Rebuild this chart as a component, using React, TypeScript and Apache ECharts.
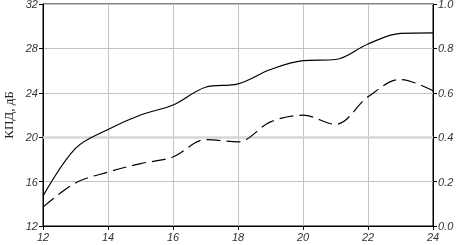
import React, { useEffect, useRef } from "react";
import * as echarts from "echarts";

const xValues = [12, 13, 14, 15, 16, 17, 18, 19, 20, 21, 22, 23, 24];
const solidValues = [14.7, 19.0, 20.7, 22.0, 22.9, 24.5, 24.8, 26.1, 26.9, 27.0, 28.4, 29.35, 29.4];
const dashedValues = [0.085, 0.194, 0.243, 0.281, 0.311, 0.389, 0.379, 0.469, 0.499, 0.458, 0.582, 0.66, 0.609];
const leftAxisName = "КПД, дБ";

export default function App() {
  const ref = useRef<HTMLDivElement>(null);
  useEffect(() => {
    if (!ref.current) return;
    const chart = echarts.init(ref.current, null, { renderer: "svg" });
    const labelStyle = {
      fontFamily: "Liberation Sans",
      fontStyle: "italic" as const,
      fontSize: 11,
      color: "#333",
    };
    chart.setOption({
      animation: false,
      grid: {
        left: 43,
        right: 25,
        top: 4,
        bottom: 19,
        containLabel: false,
        outerBoundsMode: "none",
        show: true,
        borderColor: "#000",
        borderWidth: 1,
        backgroundColor: "transparent",
      },
      xAxis: {
        type: "value",
        min: 12,
        max: 24,
        interval: 2,
        axisLine: { show: true, lineStyle: { color: "#000", width: 1 } },
        axisTick: { show: true, length: 4, lineStyle: { color: "#000" } },
        axisLabel: { ...labelStyle, margin: 5 },
        splitLine: { show: true, lineStyle: { color: "#c4c4c4", width: 1 } },
      },
      yAxis: [
        {
          type: "value",
          min: 12,
          max: 32,
          interval: 4,
          name: leftAxisName,
          nameLocation: "middle",
          nameGap: 28,
          nameTextStyle: { fontFamily: "Liberation Serif", fontSize: 13, color: "#222" },
          axisLine: { show: true, lineStyle: { color: "#000", width: 1 } },
          axisTick: { show: true, length: 4, lineStyle: { color: "#000" } },
          axisLabel: { ...labelStyle, margin: 5 },
          splitLine: { show: true, lineStyle: { color: "#c4c4c4", width: 1 } },
        },
        {
          type: "value",
          min: 0,
          max: 1,
          interval: 0.2,
          position: "right",
          axisLine: { show: true, lineStyle: { color: "#000", width: 1 } },
          axisTick: { show: true, length: 4, lineStyle: { color: "#000" } },
          axisLabel: {
            ...labelStyle,
            margin: 5,
            formatter: (v: number) => v.toFixed(1),
          },
          splitLine: { show: false },
        },
      ],
      series: [
        {
          type: "line",
          yAxisIndex: 0,
          data: xValues.map((x, i) => [x, solidValues[i]]),
          smooth: 0.35,
          showSymbol: false,
          lineStyle: { color: "#000", width: 1.2 },
          markLine: {
            silent: true,
            symbol: "none",
            label: { show: false },
            lineStyle: { color: "#d6d6d6", width: 2.5, type: "solid" },
            data: [{ yAxis: 20 }],
            z: 1,
          },
          z: 3,
        },
        {
          type: "line",
          yAxisIndex: 1,
          data: xValues.map((x, i) => [x, dashedValues[i]]),
          smooth: 0.35,
          showSymbol: false,
          lineStyle: { color: "#000", width: 1.2, type: [14, 6] },
          z: 3,
        },
      ],
    });
    return () => chart.dispose();
  }, []);
  return (
    <div style={{ position: "fixed", left: 0, top: 0, width: 458, height: 245 }}>
      <div ref={ref} style={{ width: 458, height: 245 }} />
    </div>
  );
}
